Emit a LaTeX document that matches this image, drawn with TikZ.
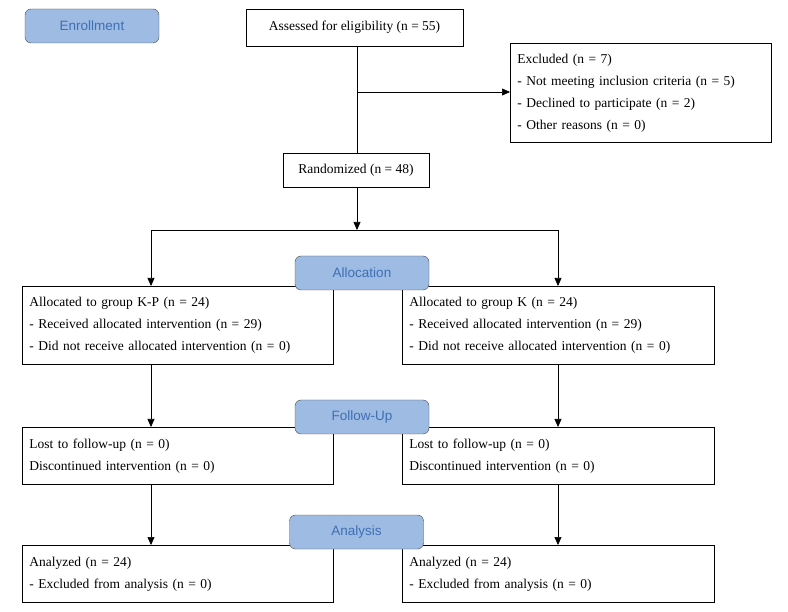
\documentclass[tikz,border=0pt]{standalone}
\usepackage{fontspec}
\setmainfont{Liberation Serif}
\newfontfamily\stagefont{Liberation Sans}
\usetikzlibrary{arrows.meta,positioning,calc}
\definecolor{stagefill}{HTML}{9DBBE3}
\definecolor{stagetext}{HTML}{3F6FB5}

\begin{document}
\begin{tikzpicture}[
    x=1pt, y=-1pt,
    stage/.style={rectangle, rounded corners=6pt, draw=black!70, fill=stagefill,
                  text=stagetext, font=\stagefont\fontsize{13.5}{16}\selectfont,
                  minimum width=134pt, minimum height=34pt},
    box/.style={rectangle, draw=black, semithick, fill=white, align=left, anchor=north west,
                inner sep=7pt, font=\fontsize{13.5}{22}\selectfont},
    line/.style={draw=black, semithick},
    arrow/.style={line, -{Triangle[length=8pt, width=7pt]}}
]
    \useasboundingbox (0,0) rectangle (788,612);

    % Stage labels
    \node (enroll) [stage] at (92,26) {Enrollment};

    % Screening
    \node (assess) [box, minimum width=217pt, minimum height=37pt, align=center, anchor=center]
        at (354.5,27.5) {Assessed for eligibility (n = 55)};
    \node (excl) [box, minimum width=261pt, minimum height=99pt, text width=247pt] at (510,43)
        {Excluded (n = 7)\\- Not meeting inclusion criteria (n = 5)\\- Declined to participate (n = 2)\\- Other reasons (n = 0)};
    \node (rand) [box, minimum width=146pt, minimum height=34pt, align=center, anchor=center]
        at (356,170) {Randomized (n = 48)};

    \coordinate (split) at (357,92);
    \draw [line] (assess.south -| split) -- (rand.north -| split);
    \draw [arrow] (split) -- (split -| excl.west);

    % Allocation
    \coordinate (branch) at (357,230);
    \draw [arrow] (rand.south -| branch) -- (branch);
    \node (alloca) [box, minimum width=311pt, minimum height=78pt, text width=297pt] at (22,286)
        {Allocated to group K-P (n = 24)\\- Received allocated intervention (n = 29)\\- Did not receive allocated intervention (n = 0)};
    \node (allocb) [box, minimum width=312pt, minimum height=78pt, text width=298pt] at (402,286)
        {Allocated to group K (n = 24)\\- Received allocated intervention (n = 29)\\- Did not receive allocated intervention (n = 0)};
    \coordinate (ka) at (151,230);
    \coordinate (kb) at (558,230);
    \draw [line] (ka) -- (kb);
    \draw [arrow] (ka) -- (ka |- alloca.north);
    \draw [arrow] (kb) -- (kb |- allocb.north);
    \node (allocation) [stage] at (362,273) {Allocation};

    % Follow-up
    \node (lossa) [box, minimum width=311pt, minimum height=57pt, text width=297pt] at (22,427)
        {Lost to follow-up (n = 0)\\Discontinued intervention (n = 0)};
    \node (lossb) [box, minimum width=312pt, minimum height=57pt, text width=298pt] at (402,427)
        {Lost to follow-up (n = 0)\\Discontinued intervention (n = 0)};
    \draw [arrow] (ka |- alloca.south) -- (ka |- lossa.north);
    \draw [arrow] (kb |- allocb.south) -- (kb |- lossb.north);
    \node (follow) [stage] at (362,417) {Follow-Up};

    % Analysis
    \node (anala) [box, minimum width=311pt, minimum height=57pt, text width=297pt] at (22,545)
        {Analyzed (n = 24)\\- Excluded from analysis (n = 0)};
    \node (analb) [box, minimum width=312pt, minimum height=57pt, text width=298pt] at (402,545)
        {Analyzed (n = 24)\\- Excluded from analysis (n = 0)};
    \draw [arrow] (ka |- lossa.south) -- (ka |- anala.north);
    \draw [arrow] (kb |- lossb.south) -- (kb |- analb.north);
    \node (analysis) [stage] at (356.5,532) {Analysis};
\end{tikzpicture}
\end{document}
